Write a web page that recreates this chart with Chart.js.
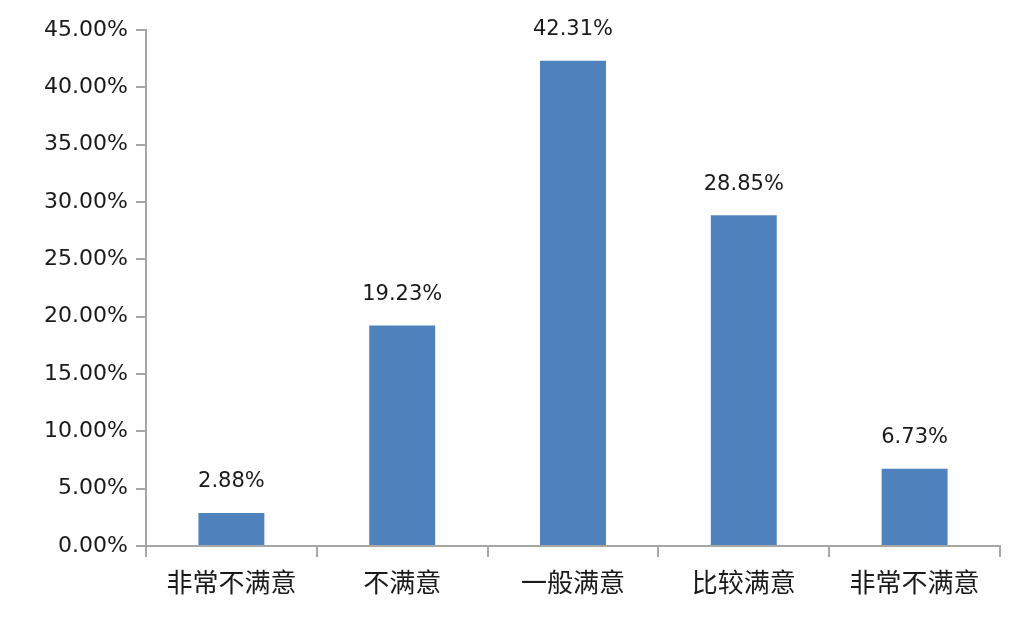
<!DOCTYPE html>
<html>
<head>
<meta charset="utf-8">
<script src="https://cdn.jsdelivr.net/npm/chart.js@4.4.1/dist/chart.umd.min.js"></script>
<style>
  html, body { margin: 0; padding: 0; background: #fff; }
  #wrap { width: 1031px; height: 618px; }
</style>
</head>
<body>
<div id="wrap"><canvas id="chart" width="1031" height="618"></canvas></div>
<script>
const categories = ["非常不满意", "不满意", "一般满意", "比较满意", "非常不满意"];
const shares = [2.88, 19.23, 42.31, 28.85, 6.73];
const yMax = 45;
const yStep = 5;

const axisGray = "#a6a6a6";
const textColor = "#1a1a1a";

// value labels above each bar
const barLabels = {
  id: "barLabels",
  afterDatasetsDraw(chart) {
    const ctx = chart.ctx;
    const meta = chart.getDatasetMeta(0);
    ctx.save();
    ctx.font = "21px 'DejaVu Sans'";
    ctx.fillStyle = textColor;
    ctx.textAlign = "center";
    ctx.textBaseline = "middle";
    meta.data.forEach((bar, i) => {
      ctx.fillText(shares[i].toFixed(2) + "%", bar.x, bar.y - 31);
    });
    ctx.restore();
  }
};

new Chart(document.getElementById("chart"), {
  type: "bar",
  data: {
    labels: categories,
    datasets: [{
      data: shares,
      backgroundColor: "#4f81bd",
      borderWidth: 0,
      barPercentage: 0.386,
      categoryPercentage: 1
    }]
  },
  options: {
    responsive: false,
    animation: false,
    layout: { padding: { top: 30, right: 31, bottom: 0, left: 0 } },
    plugins: {
      legend: { display: false },
      tooltip: { enabled: false }
    },
    scales: {
      x: {
        grid: {
          offset: true,
          drawOnChartArea: false,
          drawTicks: true,
          tickLength: 11,
          color: axisGray,
          lineWidth: 2
        },
        border: { color: axisGray, width: 2 },
        ticks: {
          color: textColor,
          font: { family: "'Noto Sans CJK SC'", size: 26 },
          padding: 10,
          maxRotation: 0
        },
        afterFit(scale) { scale.height = 72; }
      },
      y: {
        min: 0,
        max: yMax,
        grid: {
          drawOnChartArea: false,
          drawTicks: true,
          tickLength: 10,
          color: axisGray,
          lineWidth: 2
        },
        border: { color: axisGray, width: 2 },
        ticks: {
          stepSize: yStep,
          color: textColor,
          font: { family: "'DejaVu Sans'", size: 22 },
          padding: 8,
          callback: (v) => v.toFixed(2) + "%"
        },
        afterFit(scale) { scale.width = 146; }
      }
    }
  },
  plugins: [barLabels]
});
</script>
</body>
</html>
